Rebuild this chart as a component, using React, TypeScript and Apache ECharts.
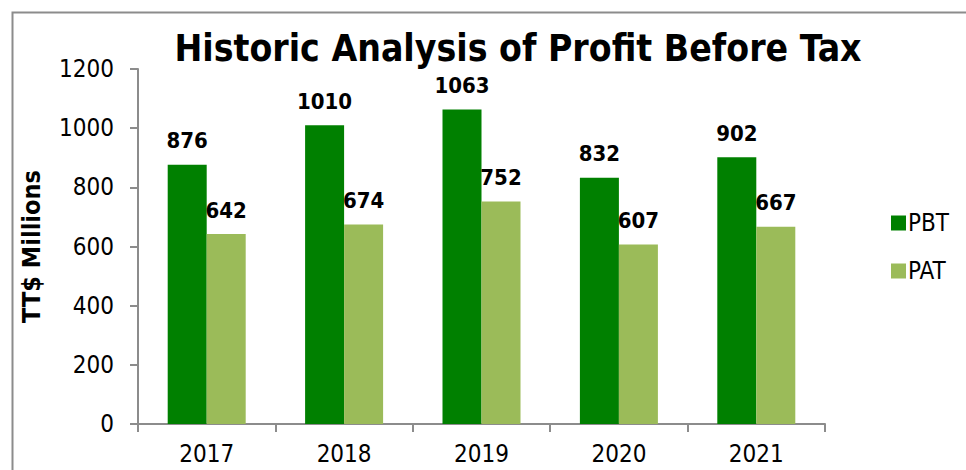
import React, { useEffect, useRef } from "react";
import * as echarts from "echarts";

const years = ["2017", "2018", "2019", "2020", "2021"];
const pbt = [876, 1010, 1063, 832, 902];
const pat = [642, 674, 752, 607, 667];
const seriesNames = ["PBT", "PAT"];
const FONT = "'DejaVu Sans Condensed', 'DejaVu Sans', sans-serif";

export default function App() {
  const ref = useRef<HTMLDivElement>(null);
  useEffect(() => {
    const chart = echarts.init(ref.current!, null, { renderer: "svg" });
    const labelStyle = {
      show: true,
      position: "top" as const,
      distance: 13,
      color: "#000",
      fontWeight: "bold" as const,
      fontSize: 22,
      fontFamily: FONT,
    };
    chart.setOption({
      animation: false,
      backgroundColor: "#fff",
      title: {
        text: "Historic Analysis of Profit Before Tax",
        left: 513,
        textAlign: "center",
        top: 25,
        textStyle: { fontSize: 37, fontWeight: "bold", color: "#000", fontFamily: FONT },
      },
      graphic: [
        {
          type: "rect",
          shape: { x: 12.5, y: 12.5, width: 1000, height: 600 },
          style: { fill: "none", stroke: "#8c8c8c", lineWidth: 2 },
          silent: true,
        },
      ],
      legend: {
        orient: "vertical",
        left: 886,
        top: 206,
        itemWidth: 15,
        itemHeight: 15,
        itemGap: 24,
        icon: "rect",
        textStyle: { fontSize: 24, color: "#000", fontFamily: FONT, padding: [0, 0, 0, -3] },
        data: seriesNames,
      },
      grid: { left: 138, right: 141, top: 69, bottom: 46 },
      xAxis: {
        type: "category",
        data: years,
        axisLine: { lineStyle: { color: "#8c8c8c", width: 2 } },
        axisTick: { show: true, length: 8, lineStyle: { color: "#8c8c8c", width: 2 } },
        axisLabel: { color: "#000", fontSize: 24, fontFamily: FONT, margin: 18 },
      },
      yAxis: {
        type: "value",
        min: 0,
        max: 1200,
        interval: 200,
        name: "TT$ Millions",
        nameLocation: "middle",
        nameGap: 94,
        nameTextStyle: { fontSize: 25, fontWeight: "bold", color: "#000", fontFamily: FONT },
        axisLine: { show: true, lineStyle: { color: "#8c8c8c", width: 2 } },
        axisTick: { show: true, length: 8, lineStyle: { color: "#8c8c8c", width: 2 } },
        splitLine: { show: false },
        axisLabel: {
          color: "#000",
          fontSize: 24,
          fontFamily: FONT,
          margin: 24,
          formatter: (v: number) => String(v),
        },
      },
      series: [
        {
          name: seriesNames[0],
          type: "bar",
          data: pbt,
          barWidth: 39,
          barGap: "0%",
          itemStyle: { color: "#008000" },
          label: labelStyle,
        },
        {
          name: seriesNames[1],
          type: "bar",
          data: pat,
          barWidth: 39,
          barGap: "0%",
          itemStyle: { color: "#9bbb59" },
          label: labelStyle,
        },
      ],
    });
    return () => chart.dispose();
  }, []);
  return (
    <div
      ref={ref}
      style={{ position: "fixed", left: 0, top: 0, width: 966, height: 470 }}
    />
  );
}
